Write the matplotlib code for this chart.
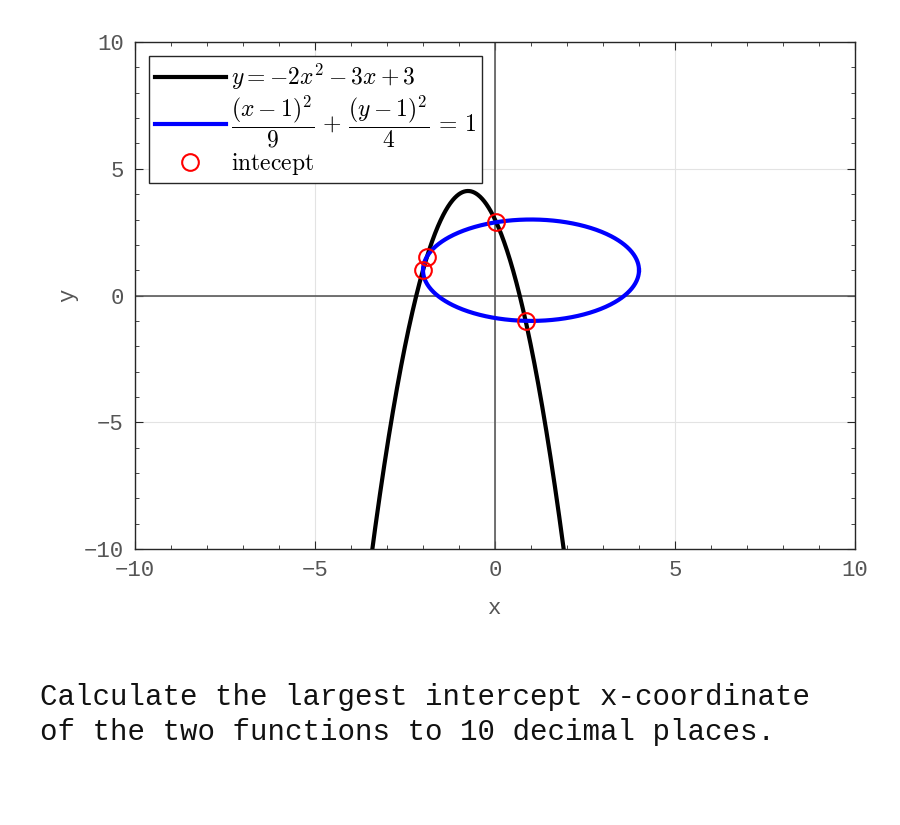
import numpy as np
import matplotlib
matplotlib.use("Agg")
import matplotlib.pyplot as plt
from matplotlib.ticker import MultipleLocator

plt.rcParams['mathtext.fontset'] = 'cm'

# Parabola y = a x^2 + b x + c
para_coef = [-2, -3, 3]
# Ellipse (x-h)^2/A + (y-k)^2/B = 1
ell_center = [1, 1]
ell_denoms = [9, 4]
# Intercept points
int_x = [-2.0, -1.9, 0.035, 0.85]
int_y = [1.0, 1.53, 2.89, -0.995]

xlim = [-10, 10]
ylim = [-10, 10]
ticks = [-10, -5, 0, 5, 10]

fig = plt.figure(figsize=(9, 8.25), dpi=100)
ax = fig.add_axes([0.15, 0.3345, 0.80, 0.6145])

mono = 'Liberation Mono'
tcol = '#555555'

ax.grid(True, color='#e3e3e3', linewidth=0.8)
ax.axhline(0, color='#5a5a5a', linewidth=1.2, zorder=2)
ax.axvline(0, color='#5a5a5a', linewidth=1.2, zorder=2)

xs = np.linspace(-4, 2.5, 800)
a, b, c = para_coef
ys = a * xs**2 + b * xs + c
l1, = ax.plot(xs, ys, color='black', linewidth=3, zorder=3,
              label=r'$y=-2x^2-3x+3$')

t = np.linspace(0, 2 * np.pi, 600)
ex = ell_center[0] + np.sqrt(ell_denoms[0]) * np.cos(t)
ey = ell_center[1] + np.sqrt(ell_denoms[1]) * np.sin(t)
l2, = ax.plot(ex, ey, color='#0000ff', linewidth=3, zorder=3,
              label=r'$\dfrac{(x-1)^2}{9}\,+\,\dfrac{(y-1)^2}{4}\,=\,1$')

l3, = ax.plot(int_x, int_y, linestyle='none', marker='o', markersize=12,
              markerfacecolor='none', markeredgecolor='red', markeredgewidth=1.5,
              zorder=4, label=r'$\mathrm{intecept}$')

ax.set_xlim(xlim)
ax.set_ylim(ylim)
ax.set_xticks(ticks)
ax.set_yticks(ticks)
ax.xaxis.set_minor_locator(MultipleLocator(1))
ax.yaxis.set_minor_locator(MultipleLocator(1))
ax.tick_params(which='both', direction='in', top=True, right=True,
               colors='#262626', labelcolor=tcol, labelsize=16)
ax.tick_params(which='major', length=6)
ax.tick_params(which='minor', length=3, width=0.6)
ax.tick_params(axis='x', which='major', pad=8)
ax.tick_params(axis='y', which='major', pad=8)
ax.set_xticklabels([f'{v}'.replace('-', '\u2212') for v in ticks], fontfamily=mono)
ax.set_yticklabels([f'{v}'.replace('-', '\u2212') for v in ticks], fontfamily=mono)
for sp in ax.spines.values():
    sp.set_color('#262626')
    sp.set_linewidth(1.0)

ax.set_xlabel('x', fontfamily=mono, fontsize=16, color=tcol, labelpad=12)
ax.set_ylabel('y', fontfamily=mono, fontsize=16, color=tcol, labelpad=4)

leg = ax.legend(handles=[l1, l2, l3], loc='upper left', fontsize=17,
                fancybox=False, framealpha=1, edgecolor='#262626',
                borderaxespad=0.6, handlelength=3.0, handletextpad=0.2,
                labelspacing=0.05, borderpad=0.25)
leg.get_frame().set_linewidth(1.0)

fig.text(40 / 900, 1 - 697 / 825,
         'Calculate the largest intercept x-coordinate',
         fontfamily=mono, fontsize=21, color='#111111', va='center', ha='left')
fig.text(40 / 900, 1 - 732 / 825,
         'of the two functions to 10 decimal places.',
         fontfamily=mono, fontsize=21, color='#111111', va='center', ha='left')

fig.savefig('out.png', dpi=100)
